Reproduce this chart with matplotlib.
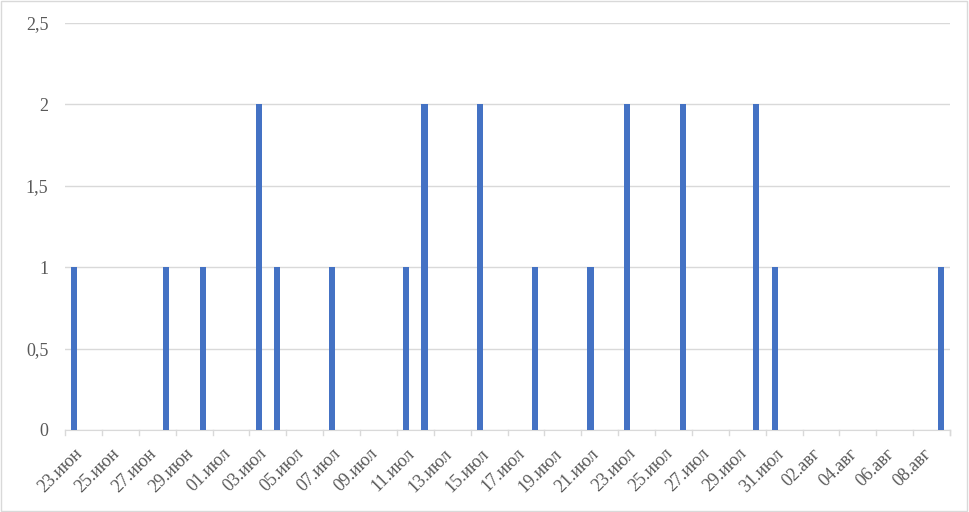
import matplotlib.pyplot as plt
import numpy as np
import pandas as pd

# Days shown on the axis (one category per day)
days = pd.date_range("2023-06-23", "2023-08-09", freq="D")
months_ru = {6: "июн", 7: "июл", 8: "авг"}

# Days that have a value, and their values
bar_dates = ["2023-06-23", "2023-06-28", "2023-06-30", "2023-07-03", "2023-07-04",
             "2023-07-07", "2023-07-11", "2023-07-12", "2023-07-15", "2023-07-18",
             "2023-07-21", "2023-07-23", "2023-07-26", "2023-07-30", "2023-07-31",
             "2023-08-09"]
bar_values = [1, 1, 1, 2, 1, 1, 1, 2, 2, 1, 1, 2, 2, 2, 1, 1]

counts = pd.Series(0, index=days)
counts[pd.to_datetime(bar_dates)] = bar_values

plt.rcParams['font.family'] = ['Liberation Serif', 'DejaVu Serif']

fig = plt.figure(figsize=(9.69, 5.12), dpi=100)
ax = fig.add_axes([65 / 969, 1 - 430 / 512, 885 / 969, 407 / 512])

x = np.arange(len(days))
ax.bar(x, counts.values, width=0.33, color='#4472C4', zorder=3)

ax.set_xlim(-0.5, len(days) - 0.5)
ax.set_ylim(0, 2.5)

yt = [0, 0.5, 1, 1.5, 2, 2.5]
ax.set_yticks(yt)
ax.set_yticklabels([str(v).replace('.0', '').replace('.', ',') for v in yt],
                   fontsize=13, color='#595959')
ax.tick_params(axis='y', length=0, pad=12)
ax.grid(axis='y', color='#d9d9d9', linewidth=1, zorder=0)

# labels every second day, centred on the day
lab_idx = x[::2]
ax.set_xticks(lab_idx)
ax.set_xticklabels([f"{d.day:02d}.{months_ru[d.month]}" for d in days[::2]],
                   rotation=45, ha='right', rotation_mode='anchor',
                   fontsize=13, color='#595959')
ax.tick_params(axis='x', length=0, pad=11)

# tick marks at day boundaries
for t in np.arange(-0.5, len(days), 2):
    ax.plot([t, t], [0, -0.03], color='#d9d9d9', linewidth=1, clip_on=False)
ax.plot([len(days) - 0.5] * 2, [0, -0.03], color='#d9d9d9', linewidth=1, clip_on=False)

for s in ['top', 'right', 'left']:
    ax.spines[s].set_visible(False)
ax.spines['bottom'].set_color('#d9d9d9')

# outer chart border
fig.patches.append(plt.Rectangle((0.001, 0.002), 0.997, 0.996, transform=fig.transFigure,
                                 fill=False, edgecolor='#d9d9d9', linewidth=1))

fig.savefig("out.png", dpi=100)
